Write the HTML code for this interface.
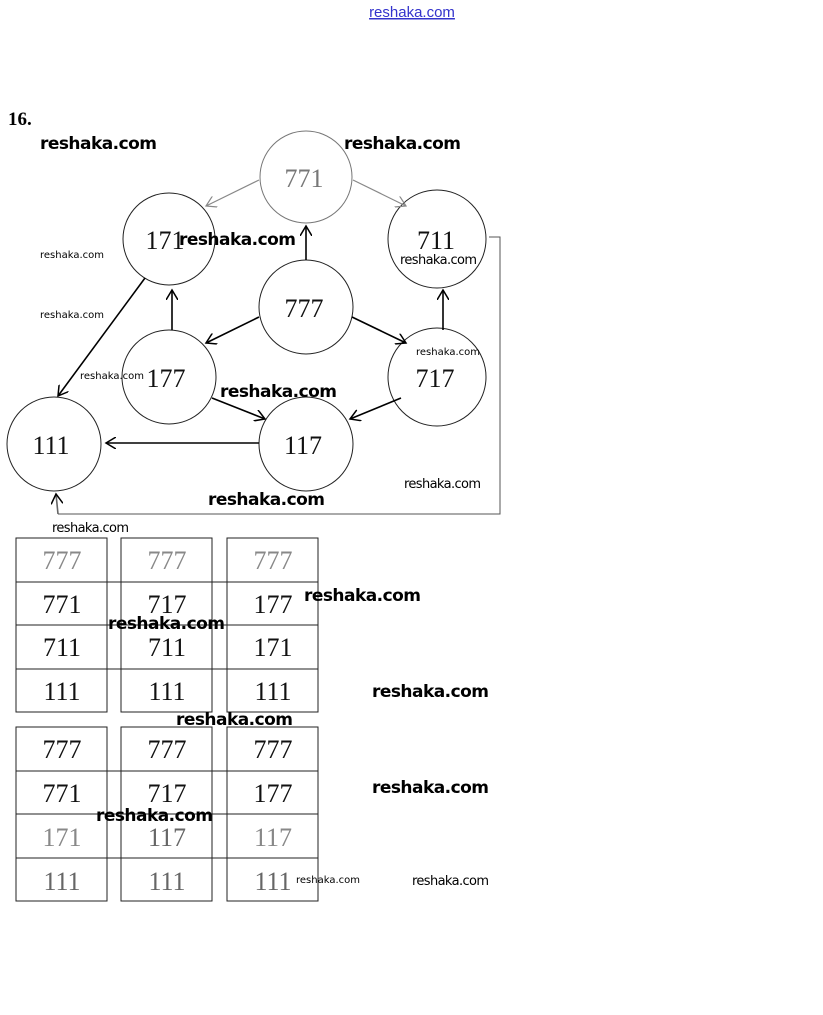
<!DOCTYPE html>
<html><head><meta charset="utf-8"><style>
html,body{margin:0;padding:0;background:#fff}
svg{display:block}
.n{font-family:"Liberation Serif",serif;font-size:26px;fill:#111;text-anchor:middle}
.w{font-family:"DejaVu Sans","Liberation Sans",sans-serif;fill:#000}
</style></head><body>
<svg width="823" height="1015" viewBox="0 0 823 1015" xmlns="http://www.w3.org/2000/svg">
<defs><marker id="a" markerWidth="12" markerHeight="12" refX="10" refY="6" orient="auto" markerUnits="userSpaceOnUse"><path d="M0,0 L10,6 L0,12" fill="none" stroke="#000" stroke-width="1.5"/></marker>
<marker id="g" markerWidth="12" markerHeight="12" refX="10" refY="6" orient="auto" markerUnits="userSpaceOnUse"><path d="M0,0 L10,6 L0,12" fill="none" stroke="#888" stroke-width="1.2"/></marker></defs>
<text x="412" y="17" font-family="Liberation Sans,sans-serif" font-size="15" fill="#3333cc" text-anchor="middle" text-decoration="underline">reshaka.com</text>
<text x="8" y="125" font-family="Liberation Serif,serif" font-weight="bold" font-size="19">16.</text>
<g fill="none" stroke="#222" stroke-width="1">
<circle cx="306" cy="177" r="46" stroke="#777"/>
<circle cx="169" cy="239" r="46"/><circle cx="437" cy="239" r="49"/>
<circle cx="306" cy="307" r="47"/><circle cx="169" cy="377" r="47"/>
<circle cx="437" cy="377" r="49"/><circle cx="54" cy="444" r="47"/>
<circle cx="306" cy="444" r="47"/>
</g>
<g stroke="#000" stroke-width="1.6" fill="none" marker-end="url(#a)">
<line x1="306" y1="260" x2="306" y2="226"/>
<line x1="259" y1="317" x2="206" y2="343"/>
<line x1="352" y1="317" x2="406" y2="343"/>
<line x1="172" y1="330" x2="172" y2="290"/>
<line x1="443" y1="330" x2="443" y2="290"/>
<line x1="212" y1="398" x2="265" y2="419"/>
<line x1="401" y1="398" x2="350" y2="419"/>
<line x1="259" y1="443" x2="106" y2="443"/>
<line x1="145" y1="278" x2="58" y2="396"/>
<line x1="58" y1="514" x2="56" y2="494" stroke="#666"/>
</g>
<g stroke="#888" stroke-width="1.2" fill="none" marker-end="url(#g)">
<line x1="259" y1="180" x2="206" y2="206"/>
<line x1="353" y1="180" x2="406" y2="206"/>
</g>
<polyline points="489,237 500,237 500,514 58,514" fill="none" stroke="#555" stroke-width="1"/>
<g class="n">
<text x="304" y="187" fill="#777">771</text><text x="165" y="249">171</text><text x="436" y="249">711</text>
<text x="304" y="317">777</text><text x="166" y="387">177</text><text x="435" y="387">717</text>
<text x="51" y="454">111</text><text x="303" y="454">117</text>
</g>
<g fill="none" stroke="#222" stroke-width="1">
<rect x="16" y="538" width="91" height="174"/><rect x="121" y="538" width="91" height="174"/><rect x="227" y="538" width="91" height="174"/>
<rect x="16" y="727" width="91" height="174"/><rect x="121" y="727" width="91" height="174"/><rect x="227" y="727" width="91" height="174"/>
<path d="M16 582H318M16 625H318M16 669H318M16 771H318M16 814H318M16 858H318"/>
</g>
<g class="n">
<text x="62" y="569" fill="#888">777</text><text x="167" y="569" fill="#888">777</text><text x="273" y="569" fill="#888">777</text>
<text x="62" y="613">771</text><text x="167" y="613">717</text><text x="273" y="613">177</text>
<text x="62" y="656">711</text><text x="167" y="656">711</text><text x="273" y="656">171</text>
<text x="62" y="700">111</text><text x="167" y="700">111</text><text x="273" y="700">111</text>
<text x="62" y="758">777</text><text x="167" y="758">777</text><text x="273" y="758">777</text>
<text x="62" y="802">771</text><text x="167" y="802">717</text><text x="273" y="802">177</text>
<text x="62" y="846" fill="#888">171</text><text x="167" y="846" fill="#666">117</text><text x="273" y="846" fill="#888">117</text>
<text x="62" y="890" fill="#666">111</text><text x="167" y="890" fill="#666">111</text><text x="273" y="890" fill="#666">111</text>
</g>
<g class="w" font-size="17" font-weight="bold">
<text x="40" y="149" textLength="117">reshaka.com</text><text x="344" y="149" textLength="117">reshaka.com</text>
<text x="179" y="245" textLength="117">reshaka.com</text><text x="220" y="397" textLength="117">reshaka.com</text>
<text x="208" y="505" textLength="117">reshaka.com</text><text x="304" y="601" textLength="117">reshaka.com</text>
<text x="108" y="629" textLength="117">reshaka.com</text><text x="372" y="697" textLength="117">reshaka.com</text>
<text x="176" y="725" textLength="117">reshaka.com</text><text x="372" y="793" textLength="117">reshaka.com</text>
<text x="96" y="821" textLength="117">reshaka.com</text>
</g>
<g class="w" font-size="10">
<text x="40" y="258">reshaka.com</text><text x="40" y="318">reshaka.com</text>
<text x="80" y="379">reshaka.com</text><text x="416" y="355">reshaka.com</text>
<text x="296" y="883">reshaka.com</text>
</g>
<g class="w" font-size="13">
<text x="400" y="264" textLength="77">reshaka.com</text><text x="404" y="488" textLength="77">reshaka.com</text>
<text x="52" y="532" textLength="77">reshaka.com</text><text x="412" y="885" textLength="77">reshaka.com</text>
</g>
</svg>
</body></html>
